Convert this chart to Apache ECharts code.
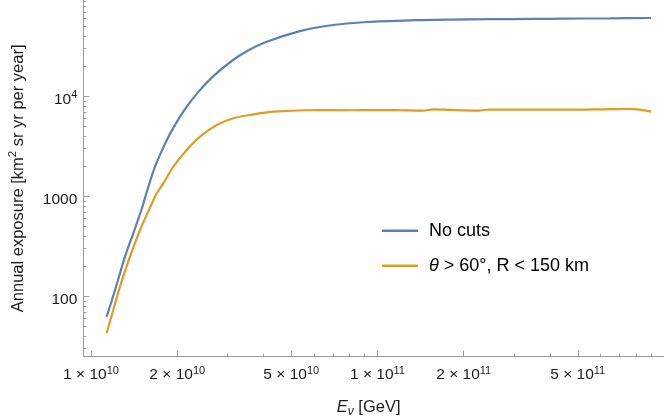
<!DOCTYPE html>
<html>
<head>
<meta charset="utf-8">
<script src="https://cdn.jsdelivr.net/npm/echarts@6/dist/echarts.min.js"></script>
<style>
html,body{margin:0;padding:0;background:#fff;}
#chart{width:664px;height:419px;}
</style>
</head>
<body>
<div id="chart"></div>
<script>
// ---- data ----
const energyNoCuts = [1.134e10, 1.213e10, 1.314e10, 1.405e10, 1.503e10, 1.565e10, 1.673e10, 1.813e10, 1.938e10, 2.129e10, 2.369e10, 2.673e10, 3.098e10, 3.521e10, 4.083e10, 5.364e10, 6.805e10, 9.178e10, 1.352e11, 1.8e11, 2.466e11, 3.5e11, 4.477e11, 6.5e11, 9.01e11];
const exposureNoCuts = [62.5, 115.6, 249, 427, 746, 1104, 1977, 3357, 4831, 7430, 11066, 15922, 22540, 28510, 34910, 44870, 51050, 55340, 57680, 58500, 59020, 59400, 59700, 60200, 60670];
const energyCuts = [1.134e10, 1.196e10, 1.262e10, 1.368e10, 1.483e10, 1.607e10, 1.696e10, 1.788e10, 1.938e10, 2.158e10, 2.402e10, 2.746e10, 3.139e10, 3.589e10, 4.342e10, 6.2e10, 8.0e10, 1.004e11, 1.2e11, 1.438e11, 1.574e11, 1.8e11, 2.254e11, 2.466e11, 3.0e11, 4.0e11, 5.0e11, 6.05e11, 7.67e11, 9.01e11];
const exposureCuts = [42.7, 73, 125, 249, 460, 773, 1072, 1349, 1977, 2904, 3945, 5164, 6026, 6501, 7015, 7295, 7250, 7295, 7250, 7180, 7400, 7300, 7200, 7380, 7350, 7380, 7350, 7400, 7480, 7015];
const seriesNames = ['No cuts', 'θ > 60°, R < 150 km'];
const xMajorTicks = [1e10, 2e10, 5e10, 1e11, 2e11, 5e11];
const xMinorTicks = [3e10, 4e10, 6e10, 7e10, 8e10, 9e10, 3e11, 4e11, 6e11, 7e11, 8e11, 9e11];
const yMajorTicks = [100, 1000, 10000];
const yMinorTicks = [30, 40, 50, 60, 70, 80, 90, 200, 300, 400, 500, 600, 700, 800, 900, 2000, 3000, 4000, 5000, 6000, 7000, 8000, 9000, 20000, 30000, 40000, 50000, 60000, 70000, 80000, 90000];

const FONT = '"Liberation Sans", Arial, sans-serif';
const AXIS_COLOR = '#9a9a9a';
const TEXT_COLOR = '#1a1a1a';
const X_MIN = 9.4e9, X_MAX = 1e12, Y_MIN = 24.9, Y_MAX = 91800;

const tickRich = {
  n: {fontSize: 15.5, lineHeight: 20, padding: [6, 0, 0, 0], color: TEXT_COLOR, fontFamily: FONT},
  s: {fontSize: 11, lineHeight: 20, padding: [0, 0, 2, 0], color: TEXT_COLOR, fontFamily: FONT}
};

function sciLabel(v) {
  const e = Math.floor(Math.log10(v) + 1e-9);
  const m = Math.round(v / Math.pow(10, e));
  return '{n|' + m + ' × 10}{s|' + e + '}';
}
function yLabel(v) {
  if (v >= 10000) return '{n|10}{s|' + Math.round(Math.log10(v)) + '}';
  return '{n|' + Math.round(v) + '}';
}

function zip(a, b) { return a.map((x, i) => [x, b[i]]); }

const chart = echarts.init(document.getElementById('chart'), null, {renderer: 'canvas'});
chart.setOption({
  animation: false,
  backgroundColor: '#ffffff',
  grid: {left: 83.3, right: 0, top: 0, bottom: 62.3, containLabel: false, outerBoundsMode: 'none'},
  legend: {
    orient: 'vertical',
    left: 377, top: 215.7,
    itemWidth: 36, itemHeight: 2.5, itemGap: 15,
    icon: 'rect',
    selectedMode: false,
    data: seriesNames,
    formatter: function (name) {
      if (name === seriesNames[1]) return '{i|θ}{t| > 60°, R < 150 km}';
      return '{t|' + name + '}';
    },
    textStyle: {
      fontSize: 18, lineHeight: 20, color: '#000', fontFamily: FONT, padding: [0, 0, 0, 6],
      rich: {
        i: {fontStyle: 'italic', fontSize: 18, lineHeight: 20, color: '#000', fontFamily: FONT},
        t: {fontSize: 18, lineHeight: 20, color: '#000', fontFamily: FONT}
      }
    }
  },
  xAxis: [{
    type: 'log', logBase: 10, min: X_MIN, max: X_MAX, gridIndex: 0, position: 'bottom',
    name: '{i|E}{sub|ν}{t| [GeV]}',
    nameLocation: 'middle', nameGap: 41,
    nameTextStyle: {
      color: TEXT_COLOR, fontFamily: FONT, fontSize: 16.5, padding: [0, 10, 0, 0],
      rich: {
        i: {fontStyle: 'italic', fontSize: 16.5, lineHeight: 20, color: TEXT_COLOR, fontFamily: FONT},
        sub: {fontStyle: 'italic', fontSize: 12, lineHeight: 20, padding: [7, 0, 0, 0], color: TEXT_COLOR, fontFamily: FONT},
        t: {fontSize: 16.5, lineHeight: 20, color: TEXT_COLOR, fontFamily: FONT}
      }
    },
    axisLine: {show: true, lineStyle: {color: AXIS_COLOR, width: 1}},
    axisTick: {show: true, inside: true, length: 6, customValues: xMajorTicks, lineStyle: {color: AXIS_COLOR, width: 1}},
    minorTick: {show: false},
    axisLabel: {show: true, customValues: xMajorTicks, margin: 5, formatter: sciLabel, rich: tickRich, color: TEXT_COLOR, fontFamily: FONT},
    splitLine: {show: false}
  }, {
    type: 'log', logBase: 10, min: X_MIN, max: X_MAX, gridIndex: 0, position: 'bottom',
    axisLine: {show: false},
    axisTick: {show: true, inside: true, length: 3, customValues: xMinorTicks, lineStyle: {color: AXIS_COLOR, width: 1}},
    axisLabel: {show: false},
    splitLine: {show: false}
  }],
  yAxis: [{
    type: 'log', logBase: 10, min: Y_MIN, max: Y_MAX, gridIndex: 0, position: 'left',
    name: '{n|Annual exposure [km}{s|2}{n| sr yr per year]}',
    nameLocation: 'middle', nameGap: 57, nameRotate: 90,
    nameTextStyle: {
      color: TEXT_COLOR, fontFamily: FONT, fontSize: 16.5,
      rich: {
        n: {fontSize: 16.5, lineHeight: 20, padding: [5, 0, 0, 0], color: TEXT_COLOR, fontFamily: FONT},
        s: {fontSize: 11.5, lineHeight: 20, padding: [0, 0, 6, 0], color: TEXT_COLOR, fontFamily: FONT}
      }
    },
    axisLine: {show: true, lineStyle: {color: AXIS_COLOR, width: 1}},
    axisTick: {show: true, inside: true, length: 6, customValues: yMajorTicks, lineStyle: {color: AXIS_COLOR, width: 1}},
    axisLabel: {show: true, customValues: yMajorTicks, margin: 6, formatter: yLabel, rich: tickRich, color: TEXT_COLOR, fontFamily: FONT},
    splitLine: {show: false}
  }, {
    type: 'log', logBase: 10, min: Y_MIN, max: Y_MAX, gridIndex: 0, position: 'left',
    axisLine: {show: false},
    axisTick: {show: true, inside: true, length: 3, customValues: yMinorTicks, lineStyle: {color: AXIS_COLOR, width: 1}},
    axisLabel: {show: false},
    splitLine: {show: false}
  }],
  series: [{
    name: seriesNames[0], type: 'line', xAxisIndex: 0, yAxisIndex: 0,
    data: zip(energyNoCuts, exposureNoCuts),
    showSymbol: false, smooth: 0.3, color: '#5E81B5',
    lineStyle: {width: 2.2, color: '#5E81B5'}
  }, {
    name: seriesNames[1], type: 'line', xAxisIndex: 0, yAxisIndex: 0,
    data: zip(energyCuts, exposureCuts),
    showSymbol: false, smooth: 0.3, color: '#E19C24',
    lineStyle: {width: 2.2, color: '#E19C24'}
  }]
});
</script>
</body>
</html>
